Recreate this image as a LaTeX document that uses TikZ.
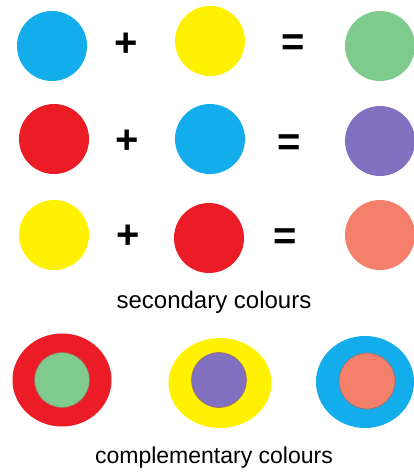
\documentclass[tikz,border=0pt]{standalone}
\usepackage{fontspec}
\setmainfont{Liberation Sans}
\usepackage{xcolor}
\usepackage{tikz}
\usetikzlibrary{shapes.geometric}

\definecolor{cyanblue}{HTML}{12ADEA}
\definecolor{lemon}{HTML}{FFF100}
\definecolor{brightred}{HTML}{EC1C26}
\definecolor{softgreen}{HTML}{7FCB8D}
\definecolor{lilac}{HTML}{8270C0}
\definecolor{salmon}{HTML}{F47F6A}
\definecolor{rim}{HTML}{9A6E66}

\begin{document}
\begin{tikzpicture}[
      x=1pt, y=-1pt,
      dot/.style={circle, minimum size=70pt, inner sep=0pt},
      ring/.style={ellipse, minimum width=99pt, minimum height=93pt, inner sep=0pt},
      core/.style={circle, minimum size=55pt, inner sep=0pt, draw=rim, line width=0.6pt},
      sign/.style={font=\fontsize{40}{40}\selectfont\bfseries, inner sep=0pt},
      caption/.style={inner sep=0pt}
    ]
      \useasboundingbox (0,0) rectangle (414,472);
      % blue + yellow = green
      \node[dot, fill=cyanblue] (blueA) at (52,46) {};
      \node[sign] (plusA) at (126,45) {+};
      \node[dot, fill=lemon] (yellowA) at (210,41) {};
      \node[sign] (eqA) at (293,45) {=};
      \node[dot, fill=softgreen] (greenA) at (380,46) {};
      % red + blue = purple
      \node[dot, fill=brightred] (redB) at (54,139) {};
      \node[sign] (plusB) at (127,142) {+};
      \node[dot, fill=cyanblue] (blueB) at (210,139) {};
      \node[sign] (eqB) at (289,145) {=};
      \node[dot, fill=lilac] (purpleB) at (380,141) {};
      % yellow + red = orange
      \node[dot, fill=lemon] (yellowC) at (54,235) {};
      \node[sign] (plusC) at (128,237) {+};
      \node[dot, fill=brightred] (redC) at (209,238) {};
      \node[sign] (eqC) at (285,239) {=};
      \node[dot, fill=salmon] (orangeC) at (380,235) {};
      \node[caption, font=\fontsize{24}{28}\selectfont] (secondary) at (214,302) {secondary colours};
      % complementary pairs
      \node[ring, fill=brightred] (redRing) at (62,380) {};
      \node[core, fill=softgreen] (greenCore) at (62,380) {};
      \node[ring, fill=lemon, minimum width=103pt, minimum height=90pt] (yellowRing) at (220,383) {};
      \node[core, fill=lilac] (purpleCore) at (219,380) {};
      \node[ring, fill=cyanblue, minimum width=98pt, minimum height=92pt] (blueRing) at (365,382) {};
      \node[core, fill=salmon, minimum size=56pt] (orangeCore) at (367,381) {};
      \node[caption, font=\fontsize{23}{28}\selectfont] (complementary) at (214,458) {complementary colours};
    \end{tikzpicture}
\end{document}
